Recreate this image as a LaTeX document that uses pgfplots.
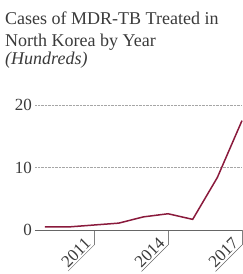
\documentclass[border=0pt]{standalone}
\usepackage{pgfplots}
\pgfplotsset{compat=1.18}
\usepackage{fontspec}
\setmainfont{Liberation Serif}
\definecolor{line}{HTML}{8A1A3C}
\definecolor{txt}{HTML}{3A3A3A}
\definecolor{tick}{HTML}{666666}
\begin{document}
\begin{tikzpicture}
\useasboundingbox (0pt,0pt) rectangle (242pt,274pt);
\node[anchor=base west, inner sep=0, text=txt, font=\fontsize{18}{20}\selectfont] at (5pt,250pt) {Cases of MDR-TB Treated in};
\node[anchor=base west, inner sep=0, text=txt, font=\fontsize{18}{20}\selectfont] at (5pt,227pt) {North Korea by Year};
\node[anchor=base west, inner sep=0, text=txt, font=\fontsize{18}{20}\selectfont\itshape] at (5pt,209pt) {(Hundreds)};
\begin{axis}[
  at={(35pt,44pt)}, anchor=south west,
  scale only axis, width=207pt, height=125pt,
  xmin=2008.6, xmax=2017, ymin=0, ymax=20,
  clip=false,
  axis line style={draw=none},
  xtick={2011,2014,2017},
  xticklabels={2011,2014,2017},
  ytick={0,10,20},
  ymajorgrids,
  grid style={densely dotted, gray!70, line width=0.5pt},
  major tick length=15pt,
  xtick align=outside,
  tick style={tick, line width=0.5pt},
  ytick style={draw=none},
  xtick pos=bottom,
  /pgf/number format/assume math mode=true,
  yticklabel style={font=\fontsize{17}{18}\selectfont, text=txt, inner xsep=3pt},
  xticklabel style={font=\fontsize{17}{18}\selectfont, text=txt, rotate=45, anchor=south east, inner sep=1.5pt,
    append after command={(\tikzlastnode.south west) edge[draw=tick, line width=0.5pt] (\tikzlastnode.south east)}},
]
\addplot[line, line width=1.5pt, mark=none] coordinates {
(2009,0.5) (2010,0.5) (2011,0.8) (2012,1.1) (2013,2.1) (2014,2.6) (2015,1.7) (2016,8.4) (2017,17.5)
};
\draw[tick, line width=0.8pt] (axis cs:2008.6,0) -- (axis cs:2017,0);
\end{axis}
\end{tikzpicture}
\end{document}
